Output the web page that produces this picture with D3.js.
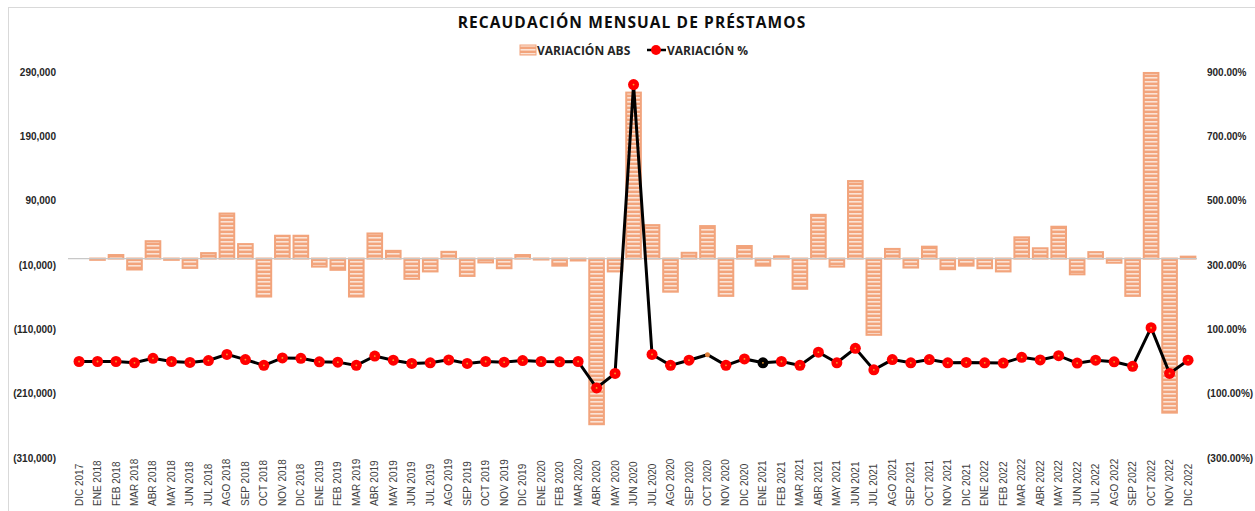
<!DOCTYPE html>
<html>
<head>
<meta charset="utf-8">
<script src="https://cdn.jsdelivr.net/npm/d3@7"></script>
<style>
  body { margin: 0; background: #fff; }
  svg { font-family: "Open Sans", "Liberation Sans", sans-serif; }
</style>
</head>
<body>
<div id="chart"></div>
<script>
var months = ['DIC 2017',
  'ENE 2018','FEB 2018','MAR 2018','ABR 2018','MAY 2018','JUN 2018','JUL 2018','AGO 2018','SEP 2018','OCT 2018','NOV 2018','DIC 2018',
  'ENE 2019','FEB 2019','MAR 2019','ABR 2019','MAY 2019','JUN 2019','JUL 2019','AGO 2019','SEP 2019','OCT 2019','NOV 2019','DIC 2019',
  'ENE 2020','FEB 2020','MAR 2020','ABR 2020','MAY 2020','JUN 2020','JUL 2020','AGO 2020','SEP 2020','OCT 2020','NOV 2020','DIC 2020',
  'ENE 2021','FEB 2021','MAR 2021','ABR 2021','MAY 2021','JUN 2021','JUL 2021','AGO 2021','SEP 2021','OCT 2021','NOV 2021','DIC 2021',
  'ENE 2022','FEB 2022','MAR 2022','ABR 2022','MAY 2022','JUN 2022','JUL 2022','AGO 2022','SEP 2022','OCT 2022','NOV 2022','DIC 2022'];

// variación absoluta
var variacionAbs = [0,
  -2000, 5500, -17000, 27000, -2000, -14500, 8500, 70000, 22500, -59000, 35500, 35500,
  -12500, -17500, -59000, 39000, 12000, -31500, -20000, 10500, -27000, -6000, -15000, 5500,
  -1500, -11000, -3000, -257500, -20000, 258000, 52000, -51500, 9000, 50500, -58000, 19500,
  -11000, 3500, -47000, 68000, -12500, 120500, -118500, 15000, -14000, 18500, -16500, -11000,
  -15000, -20000, 33000, 16000, 49500, -24500, 10000, -6500, -58000, 288500, -239500, 3000];

// variación porcentual (%)
var variacionPct = [0,
  0, 0, -4, 10, 0, -3, 3, 22, 6, -12, 11, 10,
  -1, -2, -12, 17, 4, -6, -4, 5, -6, 0, -2, 3,
  0, -1, 0, -82, -37, 861, 22, -12, 4, 21, -12, 8,
  -4, 0, -12, 29, -4, 41, -26, 6, -4, 6, -4, -3,
  -4, -5, 13, 5, 18, -5, 4, -1, -15, 105, -37, 4];

var leftTicks = [290000, 190000, 90000, -10000, -110000, -210000, -310000];
var rightTicks = [900, 700, 500, 300, 100, -100, -300];

var width = 1255, height = 511;
var svg = d3.select('#chart').append('svg')
    .attr('width', width)
    .attr('height', height);

var defs = svg.append('defs');
var pat = defs.append('pattern')
    .attr('id', 'stripes')
    .attr('patternUnits', 'userSpaceOnUse')
    .attr('width', 8)
    .attr('height', 4);
pat.append('rect').attr('width', 8).attr('height', 4).attr('fill', '#F2A47C');
pat.append('rect').attr('y', 1).attr('width', 8).attr('height', 1.6).attr('fill', '#FBE3D6');

// chart border
svg.append('rect')
    .attr('x', 8.5).attr('y', 7.5)
    .attr('width', 1250).attr('height', 520)
    .attr('fill', 'none')
    .attr('stroke', '#d9d9d9');

var x = d3.scaleBand()
    .domain(months)
    .range([69.8, 1197.3])
    .paddingInner(0.1)
    .paddingOuter(0.05);

var yLeft = d3.scaleLinear()
    .domain([-310000, 290000])
    .range([458, 72]);

var yRight = d3.scaleLinear()
    .domain([-300, 900])
    .range([458, 72]);

var fmtNum = function(d) {
  var s = d3.format(',')(Math.abs(d));
  return d < 0 ? '(' + s + ')' : s;
};
var fmtPct = function(d) {
  var s = d3.format('.2f')(Math.abs(d)) + '%';
  return d < 0 ? '(' + s + ')' : s;
};

// title
svg.append('text')
    .attr('x', 632)
    .attr('y', 28)
    .attr('text-anchor', 'middle')
    .style('font-size', '15.5px')
    .style('font-weight', 'bold')
    .style('letter-spacing', '1.1px')
    .attr('fill', '#0d0d0d')
    .text('RECAUDACIÓN MENSUAL DE PRÉSTAMOS');

// legend
var legend = svg.append('g');
legend.append('rect')
    .attr('x', 520).attr('y', 45)
    .attr('width', 16).attr('height', 10)
    .attr('fill', 'url(#stripes)')
    .attr('stroke', '#F2A47C');
legend.append('text')
    .attr('x', 537).attr('y', 55)
    .style('font-size', '12px').style('font-weight', 'bold')
    .attr('fill', '#262626')
    .text('VARIACIÓN ABS');
legend.append('line')
    .attr('x1', 647).attr('x2', 666).attr('y1', 50).attr('y2', 50)
    .attr('stroke', '#000').attr('stroke-width', 2.5);
legend.append('circle')
    .attr('cx', 656).attr('cy', 50).attr('r', 5)
    .attr('fill', '#FF0000');
legend.append('text')
    .attr('x', 667).attr('y', 55)
    .style('font-size', '12px').style('font-weight', 'bold')
    .attr('fill', '#262626')
    .text('VARIACIÓN %');

// left axis
var leftAxis = svg.append('g')
    .attr('transform', 'translate(56,0)')
    .call(d3.axisLeft(yLeft).tickValues(leftTicks).tickFormat(fmtNum).tickSize(0).tickPadding(0));
leftAxis.select('.domain').remove();
leftAxis.selectAll('text')
    .style('font-size', '10px').style('font-weight', 'bold')
    .attr('fill', '#262626');

// right axis
var rightAxis = svg.append('g')
    .attr('transform', 'translate(1207,0)')
    .call(d3.axisRight(yRight).tickValues(rightTicks).tickFormat(fmtPct).tickSize(0).tickPadding(0));
rightAxis.select('.domain').remove();
rightAxis.selectAll('text')
    .style('font-size', '10px').style('font-weight', 'bold')
    .attr('fill', '#262626');

// bars
svg.append('g')
    .selectAll('rect')
    .data(variacionAbs)
    .enter()
    .append('rect')
    .attr('x', function(d, i) { return x(months[i]) + 1; })
    .attr('width', x.bandwidth() - 2)
    .attr('y', function(d) { return Math.min(yLeft(d), yLeft(0)); })
    .attr('height', function(d) { return Math.abs(yLeft(d) - yLeft(0)); })
    .attr('fill', 'url(#stripes)')
    .attr('stroke', '#F2A47C')
    .attr('stroke-width', 2);

// zero line
svg.append('line')
    .attr('x1', 68).attr('x2', 1197)
    .attr('y1', yLeft(0)).attr('y2', yLeft(0))
    .attr('stroke', '#c8c8c8')
    .attr('stroke-width', 1.2);

// x labels
var xAxis = svg.append('g')
    .attr('transform', 'translate(0,506)')
    .call(d3.axisBottom(x).tickSize(0).tickPadding(0));
xAxis.select('.domain').remove();
xAxis.selectAll('text')
    .attr('transform', 'rotate(-90)')
    .attr('text-anchor', 'start')
    .attr('x', 0)
    .attr('y', 0)
    .attr('dy', '0.35em')
    .style('font-size', '10px')
    .attr('fill', '#404040');

// line
var cx = function(i) { return x(months[i]) + x.bandwidth() / 2; };
var line = d3.line()
    .x(function(d, i) { return cx(i); })
    .y(function(d) { return yRight(d); });

svg.append('path')
    .datum(variacionPct)
    .attr('d', line)
    .attr('fill', 'none')
    .attr('stroke', '#000')
    .attr('stroke-width', 3);

var markers = svg.append('g')
    .selectAll('g')
    .data(variacionPct)
    .enter()
    .append('g')
    .attr('transform', function(d, i) { return 'translate(' + cx(i) + ',' + yRight(d) + ')'; });

markers.append('circle')
    .attr('r', function(d, i) { return months[i] === 'OCT 2020' ? 2.5 : 5.5; })
    .attr('fill', function(d, i) {
      if (months[i] === 'OCT 2020') return '#E0803A';
      if (months[i] === 'ENE 2021') return '#000';
      return '#FF0000';
    });
markers.append('circle')
    .attr('r', 0.9)
    .attr('fill', function(d, i) { return months[i] === 'OCT 2020' ? 'none' : '#F5A030'; });
</script>
</body>
</html>
